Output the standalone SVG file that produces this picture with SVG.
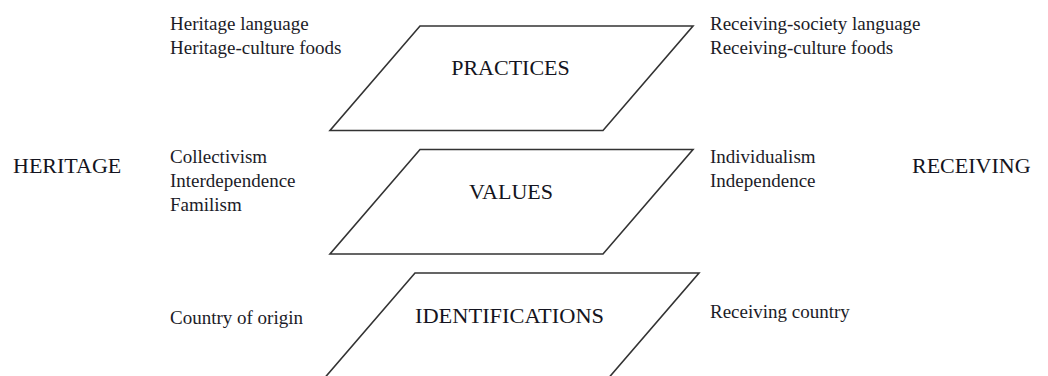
<svg xmlns="http://www.w3.org/2000/svg" width="1048" height="376" viewBox="0 0 1048 376">
  <style>
    .plane { fill: #ffffff; stroke: #333333; stroke-width: 1.6; stroke-linejoin: miter; }
    .title { font-family: "Liberation Serif", "Times New Roman", serif; font-size: 22px; fill: #141420; }
    .item { font-family: "Liberation Serif", "Times New Roman", serif; font-size: 19px; fill: #1c1c28; }
    .pole { font-family: "Liberation Serif", "Times New Roman", serif; font-size: 22px; fill: #141420; }
  </style>
  <rect width="1048" height="376" fill="#ffffff"/>

  <!-- cultural poles -->
  <g id="heritage">
    <text class="pole" x="13" y="173">HERITAGE</text>
  </g>
  <g id="receiving">
    <text class="pole" x="912" y="173">RECEIVING</text>
  </g>

  <!-- practices plane -->
  <g id="practices">
    <polygon class="plane" points="420,26 693,26 603,130.5 330,130.5"/>
    <text class="title" x="510.5" y="75" text-anchor="middle">PRACTICES</text>
  </g>
  <g id="practices-heritage">
    <text class="item" x="170" y="29.5">Heritage language</text>
    <text class="item" x="170" y="54">Heritage-culture foods</text>
  </g>
  <g id="practices-receiving">
    <text class="item" x="710" y="29.5">Receiving-society language</text>
    <text class="item" x="710" y="54">Receiving-culture foods</text>
  </g>

  <!-- values plane -->
  <g id="values">
    <polygon class="plane" points="420,149.5 693,149.5 603,254 330,254"/>
    <text class="title" x="511" y="199" text-anchor="middle">VALUES</text>
  </g>
  <g id="values-heritage">
    <text class="item" x="170" y="163">Collectivism</text>
    <text class="item" x="170" y="187">Interdependence</text>
    <text class="item" x="170" y="211">Familism</text>
  </g>
  <g id="values-receiving">
    <text class="item" x="710" y="163">Individualism</text>
    <text class="item" x="710" y="187">Independence</text>
  </g>

  <!-- identifications plane -->
  <g id="identifications">
    <polygon class="plane" points="415,273 699,273 609,377.5 325,377.5"/>
    <text class="title" x="415" y="323" textLength="189" lengthAdjust="spacingAndGlyphs">IDENTIFICATIONS</text>
  </g>
  <g id="identifications-heritage">
    <text class="item" x="170" y="324">Country of origin</text>
  </g>
  <g id="identifications-receiving">
    <text class="item" x="710" y="318">Receiving country</text>
  </g>

  <g id="connectors"></g>
</svg>
